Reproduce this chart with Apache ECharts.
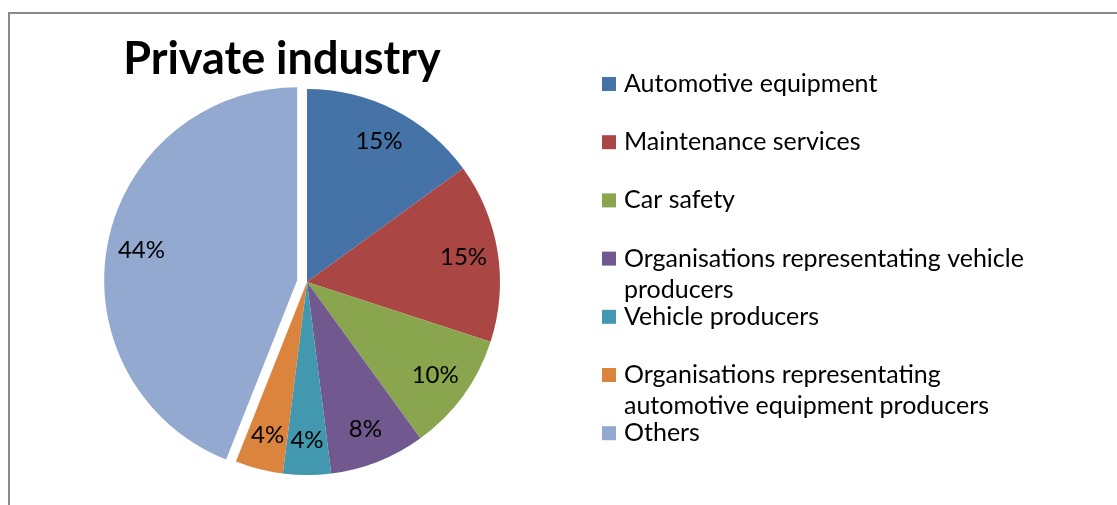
<!DOCTYPE html>
<html>
<head>
<meta charset="utf-8">
<script src="https://cdn.jsdelivr.net/npm/echarts@6/dist/echarts.min.js"></script>
<style>
  html, body { margin: 0; padding: 0; background: #fff; }
  #chart { width: 1117px; height: 505px; }
</style>
</head>
<body>
<div id="chart"></div>
<script>
const categories = [
  'Automotive equipment',
  'Maintenance services',
  'Car safety',
  'Organisations representating vehicle producers',
  'Vehicle producers',
  'Organisations representating automotive equipment producers',
  'Others'
];
// legend text as it wraps in the picture
const legendLabels = [
  'Automotive equipment',
  'Maintenance services',
  'Car safety',
  'Organisations representating vehicle\nproducers',
  'Vehicle producers',
  'Organisations representating\nautomotive equipment producers',
  'Others'
];
const shares = [15, 15, 10, 8, 4, 4, 44];
const explodedSlice = 'Others';
const colors = ['#4572a7', '#aa4643', '#89a54e', '#71588f', '#4198af', '#db843d', '#93a9cf'];

const FONT = 'Lato';
const chart = echarts.init(document.getElementById('chart'), null, { renderer: 'canvas' });

const pieData = categories.map((name, i) => ({
  name: name,
  value: shares[i],
  selected: name === explodedSlice,
  itemStyle: { color: colors[i] }
}));

const lineH = 31;
const legends = categories.map((name, i) => {
  const lines = legendLabels[i].split('\n');
  // legend centres text on the icon; pad wrapped labels with blank lines on top
  // so the first line sits level with the swatch, as in the source chart
  const padded = lines.length > 1
    ? Array(lines.length - 1).fill(' ').concat(lines).join('\n')
    : legendLabels[i];
  const boxH = (2 * lines.length - 1) * lineH;
  const center = 84 + i * 58.2;
  return {
    data: [name],
    orient: 'vertical',
    left: 602,
    top: center - boxH / 2,
    padding: 0,
    icon: 'rect',
    itemWidth: 14,
    itemHeight: 14,
    selectedMode: false,
    formatter: () => padded,
    textStyle: {
      fontFamily: FONT,
      fontSize: 25,
      color: '#000',
      lineHeight: lineH,
      padding: [0, 0, 0, 3]
    }
  };
});

const option = {
  animation: false,
  title: {
    text: 'Private industry',
    left: 277,
    textAlign: 'center',
    top: 32,
    textStyle: { fontFamily: FONT, fontWeight: 'bold', fontSize: 45, color: '#000' }
  },
  graphic: [{
    type: 'rect',
    shape: { x: 9, y: 13, width: 1200, height: 600 },
    style: { fill: 'none', stroke: '#8a8a8a', lineWidth: 2 },
    silent: true
  }],
  legend: legends,
  series: [{
    type: 'pie',
    center: [307, 282],
    radius: 193,
    startAngle: 90,
    selectedMode: 'multiple',
    selectedOffset: 10,
    label: { show: false },
    labelLine: { show: false },
    emphasis: { disabled: true },
    data: pieData
  }, {
    // transparent ring that carries the percentage labels
    type: 'pie',
    center: [307, 282],
    radius: [118, 193],
    startAngle: 90,
    selectedMode: 'multiple',
    selectedOffset: 10,
    silent: true,
    itemStyle: { color: 'rgba(0,0,0,0)' },
    label: {
      show: true,
      position: 'inside',
      formatter: '{c}%',
      fontFamily: FONT,
      fontSize: 24,
      color: '#000'
    },
    labelLine: { show: false },
    emphasis: { disabled: true },
    data: pieData.map(d => ({ name: d.name, value: d.value, selected: d.selected, itemStyle: { color: 'rgba(0,0,0,0)' } }))
  }]
};

chart.setOption(option);
window.addEventListener('resize', function () {
  chart.resize();
});
</script>
</body>
</html>
